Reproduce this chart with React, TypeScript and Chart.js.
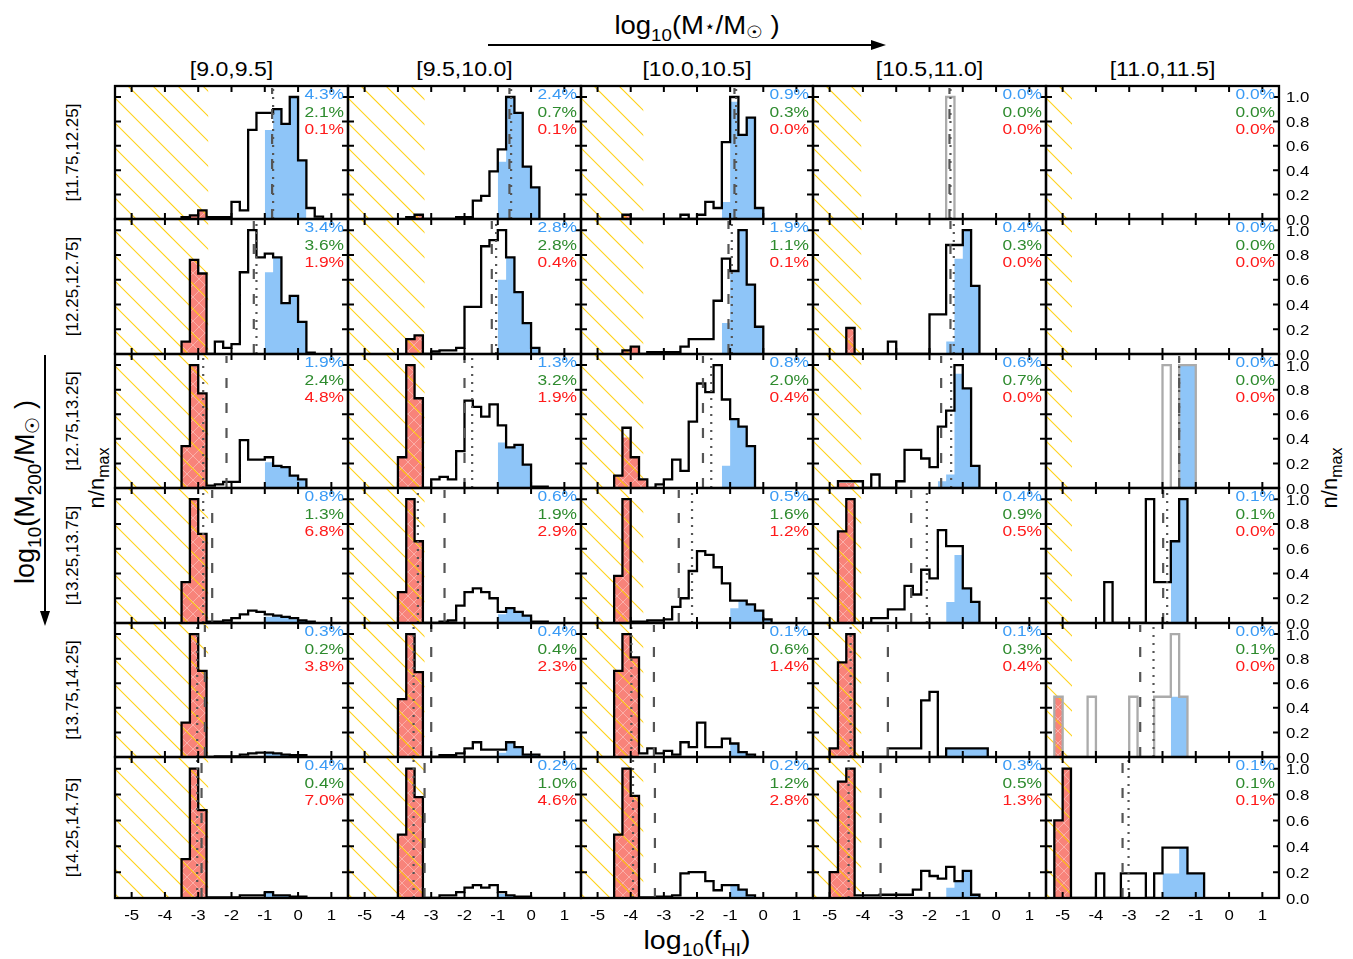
import React, { useEffect, useRef } from 'react';
import { Chart, registerables } from 'chart.js';

Chart.register(...registerables);

type Hist = [number, number[]] | null;

// ---- axes ----
const BIN = 0.25;
const X_MIN = -5.5;
const X_MAX = 1.5;
const Y_MIN = 0;
const Y_MAX = 1.09;
const X_TICKS = [-5, -4, -3, -2, -1, 0, 1];
const Y_TICKS = [0, 0.2, 0.4, 0.6, 0.8, 1.0];

// ---- bins ----
const STELLAR_BINS = ['[9.0,9.5]', '[9.5,10.0]', '[10.0,10.5]', '[10.5,11.0]', '[11.0,11.5]'];
const HALO_BINS = ['[11.75,12.25]', '[12.25,12.75]', '[12.75,13.25]', '[13.25,13.75]', '[13.75,14.25]', '[14.25,14.75]'];

// detection limit per stellar-mass column (hatched below this)
const HATCH_LIMIT = [-2.7, -3.2, -3.62, -4.05, -4.72];

// ---- histograms: [first bin edge, normalised counts per 0.25 dex bin] ----
const ALL_GAS: Hist[][] = [
  [
    [-3.5, [0.015, 0.03, 0.07, 0.015, 0.015, 0.015, 0.14, 0.07, 0.73, 0.87, 0.87, 0.9, 0.78, 1.0, 0.48, 0.09, 0.02]],
    [-3.75, [0.015, 0.035, 0, 0, 0, 0, 0.015, 0.015, 0.15, 0.19, 0.39, 0.57, 1.0, 0.87, 0.43, 0.26]],
    [-4.25, [0.035, 0, 0, 0, 0, 0, 0, 0.035, 0, 0.035, 0.14, 0.09, 0.63, 1.0, 0.69, 0.83, 0.09]],
    [-1.5, [1.0]],
    null,
  ],
  [
    [-3.5, [0.1, 0.76, 0.65, 0, 0.1, 0.05, 0.08, 0.66, 1.0, 0.78, 0.81, 0.78, 0.41, 0.47, 0.26, 0.01]],
    [-3.75, [0.12, 0.15, 0, 0.02, 0.03, 0.03, 0.05, 0.38, 0.38, 0.87, 0.92, 1.0, 0.78, 0.5, 0.25, 0.05]],
    [-4.25, [0.03, 0.06, 0, 0.015, 0.015, 0.015, 0.015, 0.06, 0.12, 0.12, 0.12, 0.43, 0.77, 0.67, 1.0, 0.56, 0.22]],
    [-4.5, [0.21, 0, 0, 0, 0, 0.1, 0, 0, 0, 0, 0.32, 0.32, 0.88, 0.88, 1.0, 0.55]],
    null,
  ],
  [
    [-3.5, [0.34, 1.0, 0.77, 0.02, 0.03, 0.05, 0.05, 0.39, 0.23, 0.23, 0.25, 0.18, 0.17, 0.1, 0.07]],
    [-4.0, [0.25, 1.0, 0.73, 0, 0.07, 0.09, 0.07, 0.3, 0.71, 0.66, 0.58, 0.68, 0.51, 0.33, 0.35, 0.19, 0.01, 0.01]],
    [-4.5, [0.1, 0.49, 0.25, 0.07, 0, 0.03, 0.07, 0.23, 0.14, 0.54, 0.85, 0.78, 1.0, 0.72, 0.56, 0.5, 0.34]],
    [-4.75, [0.055, 0.055, 0.055, 0, 0.11, 0, 0, 0.055, 0.31, 0.31, 0.24, 0.17, 0.5, 0.63, 1.0, 0.81, 0.18]],
    [-2.0, [1.0, 0, 1.0, 1.0]],
  ],
  [
    [-3.5, [0.33, 1.0, 0.72, 0.01, 0.01, 0.02, 0.04, 0.07, 0.1, 0.09, 0.07, 0.06, 0.05, 0.04, 0.02, 0.01]],
    [-4.0, [0.25, 1.0, 0.66, 0, 0, 0.01, 0.02, 0.14, 0.25, 0.28, 0.25, 0.2, 0.09, 0.12, 0.09, 0.06, 0.01, 0.01]],
    [-4.5, [0.38, 1.0, 0.01, 0.01, 0.02, 0.02, 0.03, 0.13, 0.2, 0.42, 0.58, 0.55, 0.45, 0.32, 0.18, 0.18, 0.15, 0.1, 0.03]],
    [-4.75, [0.74, 1.0, 0, 0, 0.04, 0.04, 0.11, 0.11, 0.3, 0.23, 0.43, 0.36, 0.75, 0.62, 0.62, 0.28, 0.17]],
    [-3.75, [0.33, 0, 0, 0, 0, 1.0, 0.33, 0.33, 0.66, 1.0]],
  ],
  [
    [-3.5, [0.28, 1.0, 0.7, 0, 0.005, 0.005, 0.005, 0.02, 0.03, 0.035, 0.035, 0.03, 0.02, 0.015, 0.015]],
    [-4.0, [0.47, 1.0, 0.69, 0, 0, 0.015, 0.015, 0.03, 0.07, 0.12, 0.06, 0.06, 0.06, 0.12, 0.08, 0.02, 0.02]],
    [-4.5, [0.7, 1.0, 0.81, 0.03, 0.07, 0.03, 0.05, 0.02, 0.12, 0.08, 0.28, 0.08, 0.08, 0.15, 0.11, 0.04, 0.02]],
    [-5.0, [0.07, 0.77, 1.0, 0, 0, 0, 0, 0.07, 0.07, 0.07, 0.07, 0.46, 0.53, 0, 0.07, 0.07, 0.07, 0.07, 0.07]],
    [-5.25, [0.49, 0, 0, 0, 0.49, 0, 0, 0, 0, 0.49, 0, 0, 0.49, 0.49, 1.0, 0.49]],
  ],
  [
    [-3.5, [0.3, 1.0, 0.68, 0.005, 0.005, 0.005, 0.005, 0.02, 0.02, 0.02, 0.045, 0.02, 0.02, 0.01, 0.01]],
    [-4.0, [0.49, 1.0, 0.78, 0, 0, 0.02, 0.02, 0.045, 0.08, 0.1, 0.08, 0.1, 0.045, 0.02, 0.01, 0.01]],
    [-4.5, [0.49, 1.0, 0.79, 0.005, 0.005, 0.01, 0.01, 0.02, 0.19, 0.2, 0.2, 0.13, 0.06, 0.1, 0.1, 0.065, 0.02]],
    [-5.0, [0.2, 0.9, 1.0, 0.02, 0.02, 0.02, 0.025, 0.025, 0.025, 0.025, 0.065, 0.21, 0.17, 0.15, 0.24, 0.13, 0.21, 0.025]],
    [-5.25, [0.6, 1.0, 0, 0, 0, 0.19, 0, 0, 0.19, 0.19, 0.19, 0, 0.19, 0.39, 0.39, 0.39, 0.19, 0.19]],
  ],
];

const GAS_POOR: Hist[][] = [
  [[-3.25, [0.03, 0.07]], [-3.5, [0.035]], [-4.25, [0.035]], null, null],
  [[-3.5, [0.1, 0.76, 0.65]], [-3.75, [0.12, 0.15]], [-4.25, [0.03, 0.06]], [-4.5, [0.21]], null],
  [[-3.5, [0.34, 1.0, 0.77]], [-4.0, [0.25, 1.0, 0.73]], [-4.5, [0.1, 0.41, 0.25, 0.07]], [-4.75, [0.04, 0.04]], null],
  [[-3.5, [0.33, 1.0, 0.72]], [-4.0, [0.25, 1.0, 0.66]], [-4.5, [0.38, 1.0]], [-4.75, [0.74, 1.0]], null],
  [[-3.5, [0.28, 1.0, 0.7]], [-4.0, [0.47, 1.0, 0.69]], [-4.5, [0.7, 1.0, 0.81]], [-5.0, [0.07, 0.77, 1.0]], [-5.25, [0.49]]],
  [[-3.5, [0.3, 1.0, 0.68]], [-4.0, [0.49, 1.0, 0.78]], [-4.5, [0.49, 1.0, 0.79]], [-5.0, [0.2, 0.9, 1.0]], [-5.25, [0.6, 1.0]]],
];

const GAS_RICH: Hist[][] = [
  [[-1.0, [0.73, 0.9, 0.78, 1.0, 0.48]], [-1.0, [0.47, 1.0, 0.87, 0.43, 0.26]], [-1.25, [0.14, 0.96, 0.69, 0.83, 0.09]], null, null],
  [[-1.0, [0.66, 0.78, 0.41, 0.47, 0.26]], [-1.0, [0.6, 0.78, 0.5, 0.25, 0.05]], [-1.25, [0.25, 0.66, 1.0, 0.56, 0.22]], [-1.5, [0.1, 0.77, 1.0, 0.55]], null],
  [[-1.0, [0.21, 0.18, 0.17, 0.1, 0.07]], [-1.0, [0.37, 0.33, 0.35, 0.19]], [-1.25, [0.18, 0.56, 0.5, 0.34]], [-1.75, [0.055, 0.11, 0.93, 0.81, 0.18]], [-1.5, [1.0, 1.0]]],
  [[-1.0, [0.05, 0.06, 0.05, 0.03, 0.02, 0.01]], [-1.0, [0.07, 0.12, 0.09, 0.06]], [-1.0, [0.12, 0.18, 0.15, 0.1, 0.03]], [-1.5, [0.17, 0.55, 0.28, 0.17]], [-1.75, [0.66, 1.0]]],
  [[-1.0, [0.035, 0.03, 0.02, 0.015, 0.015]], [-1.0, [0.035, 0.12, 0.08, 0.02, 0.02]], [-1.0, [0.11, 0.04, 0.02]], [-1.5, [0.07, 0.07, 0.07, 0.07, 0.07]], [-1.75, [0.49, 0.49]]],
  [[-1.0, [0.045, 0.02, 0.02]], [-1.0, [0.03, 0.02]], [-1.0, [0.1, 0.065, 0.02]], [-1.5, [0.08, 0.13, 0.21, 0.025]], [-2.0, [0.19, 0.19, 0.39, 0.19, 0.19]]],
];

// panels whose full sample is drawn with a grey outline
const GREY_OUTLINE: boolean[][] = [
  [false, false, false, true, false],
  [false, false, false, false, false],
  [false, false, false, false, true],
  [false, false, false, false, false],
  [false, false, false, false, true],
  [false, false, false, false, false],
];

// ---- reference lines (log10 fHI) ----
const DASHED_AT: (number | null)[][] = [
  [-0.78, -0.65, -0.87, -1.4, null],
  [-1.33, -1.18, -1.05, -1.37, null],
  [-2.15, -2.0, -1.82, -1.65, -1.5],
  [-2.58, -2.6, -2.55, -2.55, -1.98],
  [-2.8, -3.0, -3.3, -3.25, -2.67],
  [-2.9, -3.2, -3.27, -3.47, -3.2],
];
const DOTTED_AT: (number | null)[][] = [
  [-0.75, -0.6, -0.82, -1.37, null],
  [-1.25, -1.05, -0.95, -1.27, null],
  [-2.85, -1.77, -1.57, -1.35, -1.5],
  [-2.85, -3.4, -2.15, -2.08, -1.86],
  [-3.03, -3.53, -3.98, -4.37, -2.27],
  [-3.03, -3.53, -3.93, -4.43, -3.02],
];

// ---- percentages per panel ----
const PCT_RICH = [
  [4.3, 2.4, 0.9, 0.0, 0.0],
  [3.4, 2.8, 1.9, 0.4, 0.0],
  [1.9, 1.3, 0.8, 0.6, 0.0],
  [0.8, 0.6, 0.5, 0.4, 0.1],
  [0.3, 0.4, 0.1, 0.1, 0.0],
  [0.4, 0.2, 0.2, 0.3, 0.1],
];
const PCT_MID = [
  [2.1, 0.7, 0.3, 0.0, 0.0],
  [3.6, 2.8, 1.1, 0.3, 0.0],
  [2.4, 3.2, 2.0, 0.7, 0.0],
  [1.3, 1.9, 1.6, 0.9, 0.1],
  [0.2, 0.4, 0.6, 0.3, 0.1],
  [0.4, 1.0, 1.2, 0.5, 0.1],
];
const PCT_POOR = [
  [0.1, 0.1, 0.0, 0.0, 0.0],
  [1.9, 0.4, 0.1, 0.0, 0.0],
  [4.8, 1.9, 0.4, 0.0, 0.0],
  [6.8, 2.9, 1.2, 0.5, 0.0],
  [3.8, 2.3, 1.4, 0.4, 0.0],
  [7.0, 4.6, 2.8, 1.3, 0.1],
];

// ---- page layout ----
const COL_X = [115, 348, 581, 813, 1046, 1279];
const ROW_Y = [86, 219, 354, 488, 623, 757, 898];
const PAD = 6;
const FONT = '"Liberation Sans", Arial, Helvetica, sans-serif';
const STRETCH = 1.12;

const C_RICH = '#8EC5F8';
const C_POOR = '#F8837A';
const C_TXT_RICH = '#3A9BF5';
const C_TXT_MID = '#2E8B2E';
const C_TXT_POOR = '#FF1A1A';

function stepPoints(h: Hist) {
  if (!h) return [] as { x: number; y: number }[];
  const [start, hs] = h;
  const pts = [{ x: start, y: 0 }];
  hs.forEach((v, i) => {
    const a = start + i * BIN;
    pts.push({ x: a, y: v }, { x: a + BIN, y: v });
  });
  pts.push({ x: start + hs.length * BIN, y: 0 });
  return pts;
}

function makePoorPattern(): CanvasPattern | string {
  const t = document.createElement('canvas');
  t.width = 12;
  t.height = 12;
  const g = t.getContext('2d');
  if (!g) return C_POOR;
  g.fillStyle = C_POOR;
  g.fillRect(0, 0, 12, 12);
  g.strokeStyle = 'rgba(255,255,255,0.35)';
  g.lineWidth = 1;
  g.beginPath();
  g.moveTo(0, 0);
  g.lineTo(12, 12);
  g.moveTo(12, 0);
  g.lineTo(0, 12);
  g.stroke();
  return g.createPattern(t, 'repeat') ?? C_POOR;
}

function stretchedText(ctx: CanvasRenderingContext2D, s: string, x: number, y: number, align: CanvasTextAlign) {
  ctx.save();
  ctx.translate(x, y);
  ctx.scale(STRETCH, 1);
  ctx.textAlign = align;
  ctx.fillText(s, 0, 0);
  ctx.restore();
}

function Panel({ r, c }: { r: number; c: number }) {
  const ref = useRef<HTMLCanvasElement>(null);
  const left = COL_X[c];
  const right = COL_X[c + 1];
  const top = ROW_Y[r];
  const bottom = ROW_Y[r + 1];
  const lastRow = r === HALO_BINS.length - 1;
  const lastCol = c === STELLAR_BINS.length - 1;
  const padR = PAD + (lastCol ? 50 : 0);
  const padB = PAD + (lastRow ? 32 : 0);
  const w = right - left + PAD + padR;
  const h = bottom - top + PAD + padB;

  useEffect(() => {
    const canvas = ref.current;
    if (!canvas) return;
    const grey = GREY_OUTLINE[r][c];

    const decor = {
      id: 'panelDecor',
      afterDatasetDraw(chart: any, args: any) {
        if (args.index !== 1) return;
        const { ctx, chartArea: a } = chart;
        const lim = chart.scales.x.getPixelForValue(HATCH_LIMIT[c]);
        const hgt = a.bottom - a.top;
        ctx.save();
        ctx.beginPath();
        ctx.rect(a.left, a.top, lim - a.left, hgt);
        ctx.clip();
        ctx.strokeStyle = 'rgba(255,205,0,0.9)';
        ctx.lineWidth = 1.1;
        ctx.beginPath();
        const start = a.left + 13 - 25 * Math.ceil((hgt + 13) / 25);
        for (let x0 = start; x0 < lim; x0 += 25) {
          ctx.moveTo(x0, a.top);
          ctx.lineTo(x0 + hgt, a.bottom);
        }
        ctx.stroke();
        ctx.restore();
      },
      afterDatasetsDraw(chart: any) {
        const { ctx, chartArea: a } = chart;
        const xs = chart.scales.x;
        const ys = chart.scales.y;
        ctx.save();

        // median / reference lines
        const vline = (v: number | null, dash: number[]) => {
          if (v === null) return;
          const px = xs.getPixelForValue(v);
          ctx.setLineDash(dash);
          ctx.strokeStyle = '#555555';
          ctx.lineWidth = 2.2;
          ctx.beginPath();
          ctx.moveTo(px, a.bottom);
          ctx.lineTo(px, a.top + 2);
          ctx.stroke();
        };
        vline(DASHED_AT[r][c], [10, 15]);
        vline(DOTTED_AT[r][c], [2, 6]);
        ctx.setLineDash([]);

        // frame
        ctx.strokeStyle = '#000';
        ctx.lineWidth = 2.3;
        ctx.strokeRect(a.left, a.top, a.right - a.left, a.bottom - a.top);

        // inward ticks on all sides
        ctx.lineWidth = 2;
        ctx.beginPath();
        X_TICKS.forEach((v) => {
          const px = xs.getPixelForValue(v);
          ctx.moveTo(px, a.bottom);
          ctx.lineTo(px, a.bottom - 6);
          ctx.moveTo(px, a.top);
          ctx.lineTo(px, a.top + 6);
        });
        Y_TICKS.forEach((v) => {
          if (v === 0) return;
          const py = ys.getPixelForValue(v);
          ctx.moveTo(a.left, py);
          ctx.lineTo(a.left + 6, py);
          ctx.moveTo(a.right, py);
          ctx.lineTo(a.right - 6, py);
        });
        ctx.stroke();

        // tick labels
        ctx.fillStyle = '#000';
        ctx.font = `15px ${FONT}`;
        ctx.textBaseline = 'alphabetic';
        if (lastRow) {
          X_TICKS.forEach((v) => {
            stretchedText(ctx, String(v), xs.getPixelForValue(v), a.bottom + 22, 'center');
          });
        }
        if (lastCol) {
          Y_TICKS.forEach((v) => {
            stretchedText(ctx, v.toFixed(1), a.right + 7, ys.getPixelForValue(v) + 5.5, 'left');
          });
        }

        // fractions
        const lines: [number, string][] = [
          [PCT_RICH[r][c], C_TXT_RICH],
          [PCT_MID[r][c], C_TXT_MID],
          [PCT_POOR[r][c], C_TXT_POOR],
        ];
        ctx.font = `15.5px ${FONT}`;
        lines.forEach(([v, col], i) => {
          ctx.fillStyle = col;
          stretchedText(ctx, `${v.toFixed(1)}%`, a.right - 4, a.top + 13 + i * 17.5, 'right');
        });
        ctx.restore();
      },
    };

    const chart = new Chart(canvas, {
      type: 'line',
      data: {
        datasets: [
          {
            data: stepPoints(ALL_GAS[r][c]),
            borderColor: grey ? '#ABABAB' : '#000000',
            borderWidth: 2.3,
            fill: false,
            pointRadius: 0,
            tension: 0,
            borderJoinStyle: 'miter',
          },
          {
            data: stepPoints(GAS_POOR[r][c]),
            borderColor: 'rgba(0,0,0,0)',
            borderWidth: 0,
            backgroundColor: makePoorPattern(),
            fill: 'origin',
            pointRadius: 0,
            tension: 0,
          },
          {
            data: stepPoints(GAS_RICH[r][c]),
            borderColor: 'rgba(0,0,0,0)',
            borderWidth: 0,
            backgroundColor: C_RICH,
            fill: 'origin',
            pointRadius: 0,
            tension: 0,
          },
        ],
      },
      options: {
        animation: false,
        responsive: false,
        events: [],
        layout: { padding: { left: PAD, top: PAD, right: padR, bottom: padB } },
        scales: {
          x: { type: 'linear', min: X_MIN, max: X_MAX, display: false },
          y: { type: 'linear', min: Y_MIN, max: Y_MAX, display: false },
        },
        plugins: { legend: { display: false }, tooltip: { enabled: false } },
      },
      plugins: [decor],
    } as any);
    return () => chart.destroy();
  }, [r, c]);

  return (
    <canvas
      ref={ref}
      width={w}
      height={h}
      style={{ position: 'absolute', left: left - PAD, top: top - PAD, width: w, height: h }}
    />
  );
}

export default function App() {
  const panels: React.ReactNode[] = [];
  HALO_BINS.forEach((_, r) => {
    STELLAR_BINS.forEach((__, c) => {
      panels.push(<Panel key={`${r}-${c}`} r={r} c={c} />);
    });
  });
  const colCenter = (c: number) => (COL_X[c] + COL_X[c + 1]) / 2;
  const rowCenter = (r: number) => (ROW_Y[r] + ROW_Y[r + 1]) / 2;
  const midY = (ROW_Y[0] + ROW_Y[6]) / 2;

  return (
    <div style={{ position: 'absolute', left: 0, top: 0, width: 1353, height: 959, background: '#fff', overflow: 'hidden' }}>
      <svg width={1353} height={959} style={{ position: 'absolute', left: 0, top: 0 }} fontFamily={FONT}>
        {/* stellar mass axis */}
        <text transform="translate(697,34) scale(1.1,1)" textAnchor="middle" fontSize={25}>
          <tspan>log</tspan>
          <tspan fontSize={17} dy={7}>10</tspan>
          <tspan dy={-7}>(M</tspan>
          <tspan fontSize={17} dy={-2}>⋆</tspan>
          <tspan dy={2}>/M</tspan>
          <tspan fontSize={17} dy={4}>☉</tspan>
          <tspan dy={-4}> )</tspan>
        </text>
        <line x1={488} y1={45} x2={872} y2={45} stroke="#000" strokeWidth={2} />
        <polygon points="886,45 871,40 871,50" fill="#000" />
        {STELLAR_BINS.map((s, c) => (
          <text key={s} transform={`translate(${colCenter(c)},76) scale(1.1,1)`} textAnchor="middle" fontSize={21}>
            {s}
          </text>
        ))}

        {/* halo mass axis */}
        <text transform={`translate(34,${midY}) rotate(-90)`} textAnchor="middle" fontSize={27}>
          <tspan>log</tspan>
          <tspan fontSize={19} dy={7}>10</tspan>
          <tspan dy={-7}>(M</tspan>
          <tspan fontSize={19} dy={7}>200</tspan>
          <tspan dy={-7}>/M</tspan>
          <tspan fontSize={19} dy={5}>☉</tspan>
          <tspan dy={-5}> )</tspan>
        </text>
        <line x1={45} y1={355} x2={45} y2={612} stroke="#000" strokeWidth={2} />
        <polygon points="45,626 40,611 50,611" fill="#000" />
        {HALO_BINS.map((s, r) => (
          <text key={s} transform={`translate(78,${rowCenter(r)}) rotate(-90)`} textAnchor="middle" fontSize={17}>
            {s}
          </text>
        ))}

        {/* normalisation labels */}
        {[104, 1337].map((x) => (
          <text key={x} transform={`translate(${x},478) rotate(-90)`} textAnchor="middle" fontSize={22}>
            <tspan>n/n</tspan>
            <tspan fontSize={16} dy={5}>max</tspan>
          </text>
        ))}

        {/* gas fraction axis */}
        <text transform="translate(697,949) scale(1.1,1)" textAnchor="middle" fontSize={26}>
          <tspan>log</tspan>
          <tspan fontSize={18} dy={7}>10</tspan>
          <tspan dy={-7}>(f</tspan>
          <tspan fontSize={18} dy={7}>HI</tspan>
          <tspan dy={-7}>)</tspan>
        </text>
      </svg>
      {panels}
    </div>
  );
}
